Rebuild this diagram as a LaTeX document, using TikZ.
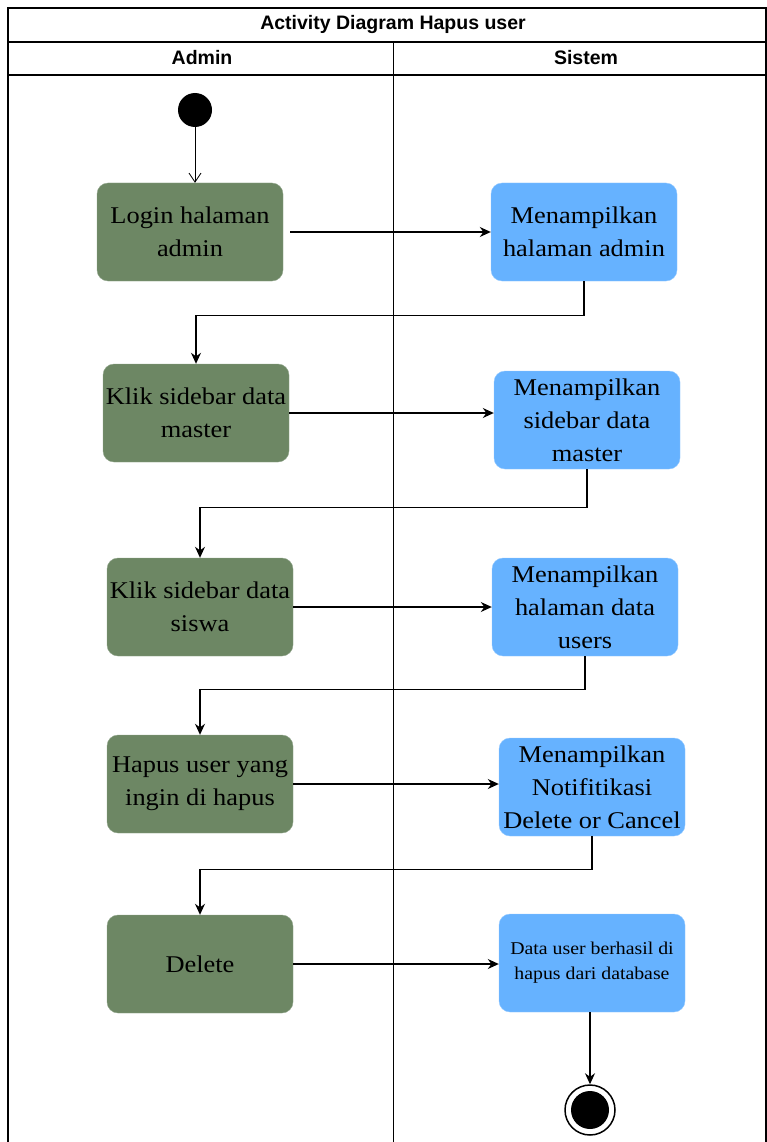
\documentclass[tikz,border=0pt]{standalone}
\usepackage{fontspec}
\setmainfont{Liberation Serif}[FakeStretch=1.1]
\setsansfont{Liberation Sans}
\usepackage{xcolor}
\usepackage{tikz}
\usetikzlibrary{arrows.meta, positioning}
\definecolor{admingreen}{RGB}{109, 135, 100}
\definecolor{sistemblue}{RGB}{102, 178, 255}

\begin{document}
\begin{tikzpicture}[x=1pt, y=-1pt, >={Stealth[length=11pt, width=10pt]},
  adminbox/.style={draw=admingreen!75!white, fill=admingreen, rounded corners=11pt,
    minimum width=186pt, minimum height=98pt, inner sep=0pt,
    align=center, font=\fontsize{24}{33}\selectfont},
  sistembox/.style={adminbox, draw=sistemblue!70!white, fill=sistemblue},
  lanehead/.style={font=\sffamily\bfseries\fontsize{19.5}{21}\selectfont},
  flow/.style={->, line width=1.3pt}]
  \useasboundingbox (0,0) rectangle (767,1142);

  % swimlanes
  \draw[line width=1.3pt] (8,1142) -- (8,8) -- (766,8) -- (766,1142);
  \draw[line width=1.3pt] (8,42) -- (766,42);
  \draw[line width=1.3pt] (8,75) -- (766,75);
  \draw[line width=1pt] (393,42) -- (393,1142);
  \node[lanehead] (judul) at (393,25) {Activity Diagram Hapus user};
  \node[lanehead] (admin) at (202,58) {Admin};
  \node[lanehead] (sistem) at (586,58) {Sistem};

  \node[circle, fill=black, minimum size=34pt, inner sep=0pt] (mulai) at (195,110) {};

  \node[adminbox] (login) at (190,232) {Login halaman\\admin};
  \node[sistembox] (tampiladmin) at (584,232) {Menampilkan\\halaman admin};
  \node[adminbox] (klikmaster) at (196,413) {Klik sidebar data\\master};
  \node[sistembox] (tampilmaster) at (587,420) {Menampilkan\\sidebar data\\master};
  \node[adminbox] (kliksiswa) at (200,607) {Klik sidebar data\\siswa};
  \node[sistembox] (tampilusers) at (585,607) {Menampilkan\\halaman data\\users};
  \node[adminbox] (hapususer) at (200,784) {Hapus user yang\\ingin di hapus};
  \node[sistembox] (notifikasi) at (592,787) {Menampilkan\\Notifitikasi\\Delete or Cancel};
  \node[adminbox] (delete) at (200,964) {Delete};
  \node[sistembox, font=\fontsize{18}{25}\selectfont] (berhasil) at (592,963) {Data user berhasil di\\hapus dari database};

  \node[circle, draw=black, line width=1.5pt, minimum size=50pt, inner sep=0pt] (selesai) at (590,1110) {};
  \fill (selesai.center) circle (19pt);

  \draw[line width=0.8pt, -{Straight Barb[length=9pt, width=12pt]}] (mulai) -- (mulai |- login.north);
  \draw[flow] (login.east) ++(7,0) -- (login.east -| tampiladmin.west);
  \draw[flow] (tampiladmin.south) -- ++(0,34) -| (klikmaster.north);
  \draw[flow] (klikmaster.east) -- (klikmaster.east -| tampilmaster.west);
  \draw[flow] (tampilmaster.south) -- ++(0,38) -| (kliksiswa.north);
  \draw[flow] (kliksiswa.east) -- (kliksiswa.east -| tampilusers.west);
  \draw[flow] (tampilusers.south) -- ++(0,33) -| (hapususer.north);
  \draw[flow] (hapususer.east) -- (hapususer.east -| notifikasi.west);
  \draw[flow] (notifikasi.south) -- ++(0,33) -| (delete.north);
  \draw[flow] (delete.east) -- (delete.east -| berhasil.west);
  \draw[flow] (selesai.north |- berhasil.south) -- (selesai.north);
\end{tikzpicture}
\end{document}
